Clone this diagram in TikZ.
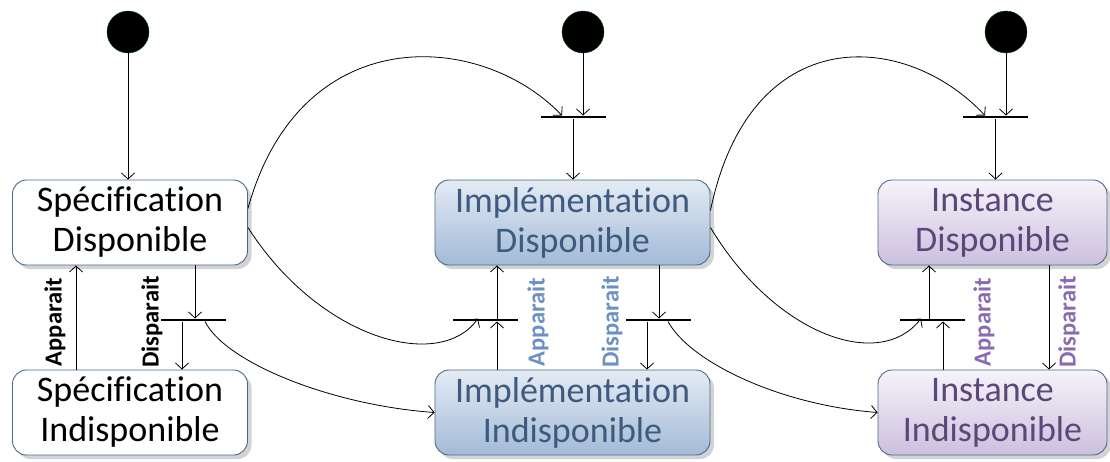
\documentclass[tikz,border=0pt]{standalone}
\usepackage{fontspec}
\setmainfont[Ligatures=NoCommon]{Carlito}
\usetikzlibrary{arrows.meta,calc,shadows}
\definecolor{bord}{HTML}{4A6A8E}
\definecolor{impltext}{HTML}{3E5A7E}
\definecolor{impltop}{HTML}{E4EBF4}
\definecolor{implbot}{HTML}{A3BAD6}
\definecolor{insttext}{HTML}{5A4878}
\definecolor{insttop}{HTML}{F6F3FA}
\definecolor{instbot}{HTML}{CBC0DE}
\definecolor{impllab}{HTML}{6C90C6}
\definecolor{instlab}{HTML}{8A6AB2}
\tikzset{
  state/.style={rounded corners=14pt, draw=bord, line width=0.9pt, align=center,
    minimum height=85pt, inner sep=0pt,
    font=\fontsize{36}{40}\selectfont,
    drop shadow={shadow xshift=4pt, shadow yshift=-4pt, opacity=0.35, fill=gray}},
  spec/.style={state, fill=white, text=black, minimum width=235pt},
  impl/.style={state, top color=impltop, bottom color=implbot, text=impltext, minimum width=275pt},
  inst/.style={state, top color=insttop, bottom color=instbot, text=insttext, minimum width=229pt},
  initst/.style={circle, fill=black, draw=black!70!green, minimum size=42pt, inner sep=0pt},
  forkbar/.style={fill=black, minimum width=65pt, minimum height=2.6pt, inner sep=0pt},
  tr/.style={line width=0.8pt, -{Straight Barb[length=6pt,width=13pt,line width=0.8pt]}},
  lab/.style={rotate=90, font=\fontsize{24.5}{26}\selectfont\bfseries, inner sep=0pt}
}
\begin{document}
\begin{tikzpicture}[x=1pt,y=-1pt]
\useasboundingbox (0,0) rectangle (1110,461);
% initial states
\node[initst] (i1) at (128,32) {};
\node[initst] (i2) at (583,32) {};
\node[initst] (i3) at (1006,32) {};
% states
\node[spec] (b1) at (130,222.5) {Spécification\\Disponible};
\node[spec] (b2) at (130,412.5) {Spécification\\Indisponible};
\node[impl] (b3) at (572.5,222.5) {Implémentation\\Disponible};
\node[impl] (b4) at (572.5,412.5) {Implémentation\\Indisponible};
\node[inst] (b5) at (992.5,222.5) {Instance\\Disponible};
\node[inst] (b6) at (992.5,412.5) {Instance\\Indisponible};
% fork / join bars
\node[forkbar] (f1) at (573,117) {};
\node[forkbar] (f2) at (995.5,117) {};
\node[forkbar] (fs) at (193.5,320) {};
\node[forkbar] (fa) at (485.5,320) {};
\node[forkbar] (fd) at (658,320) {};
\node[forkbar] (fi) at (932,320) {};
% attachment points on the bars
\coordinate (fsin)  at ($(fs.north)+(1.5,0)$);
\coordinate (fsout) at ($(fs.south)+(-11.5,0)$);
\coordinate (fsc)   at ($(fs.south)+(11.5,0)$);
\coordinate (fav)   at ($(fa.north)+(11.5,0)$);
\coordinate (fac)   at ($(fa.north)+(-7.5,0)$);
\coordinate (fdin)  at ($(fd.north)+(1,0)$);
\coordinate (fdout) at ($(fd.south)+(-11,0)$);
\coordinate (fdc)   at ($(fd.south)+(10,0)$);
\coordinate (fiin)  at ($(fi.south)+(11,0)$);
\coordinate (fiout) at ($(fi.north)+(-3,0)$);
\coordinate (fic)   at ($(fi.north)+(-11,0)$);
\coordinate (f1c)   at ($(f1.north)+(-11,0)$);
\coordinate (f2c)   at ($(f2.north)+(-10.5,0)$);
\coordinate (sap)   at ($(b2.north)+(-54,0)$);
\coordinate (idp)   at ($(b5.south)+(56.5,0)$);
% initial transitions
\draw[tr] (i1) -- (i1 |- b1.north);
\draw[tr] (i2) -- (i2 |- f1.north);
\draw[tr] (i3) -- (i3 |- f2.north);
\draw[tr] (f1) -- (f1 |- b3.north);
\draw[tr] (f2) -- (f2 |- b5.north);
% specification
\draw[tr] (sap) -- (sap |- b1.south);
\draw[tr] (fsin |- b1.south) -- (fsin);
\draw[tr] (fsout) -- (fsout |- b2.north);
% implementation
\draw[tr] (fav |- b4.north) -- (fav |- fa.south);
\draw[tr] (fav) -- (fav |- b3.south);
\draw[tr] (fdin |- b3.south) -- (fdin);
\draw[tr] (fdout) -- (fdout |- b4.north);
% instance
\draw[tr] (fiin |- b6.north) -- (fiin);
\draw[tr] (fiout) -- (fiout |- b5.south);
\draw[tr] (idp) -- (idp |- b6.north);
% curves
\draw[tr] ($(b1.east)+(0,-14)$) .. controls (300,20) and (480,30) .. (f1c);
\draw[tr] ($(b1.east)+(0,5)$) .. controls (320,340) and (440,372) .. (fac);
\draw[tr] (fsc) .. controls (225,362) and (330,405) .. (b4.west);
\draw[tr] ($(b3.east)+(0,-12)$) .. controls (750,20) and (905,30) .. (f2c);
\draw[tr] ($(b3.east)+(0,5)$) .. controls (775,335) and (880,372) .. (fic);
\draw[tr] (fdc) .. controls (690,362) and (780,405) .. (b6.west);
% labels
\node[lab] (l1) at (55,322) {Apparait};
\node[lab] (l2) at (152,322) {Disparait};
\node[lab, text=impllab] (l3) at (538,322) {Apparait};
\node[lab, text=impllab] (l4) at (612,322) {Disparait};
\node[lab, text=instlab] (l5) at (984,322) {Apparait};
\node[lab, text=instlab] (l6) at (1069,322) {Disparait};
\end{tikzpicture}
\end{document}
